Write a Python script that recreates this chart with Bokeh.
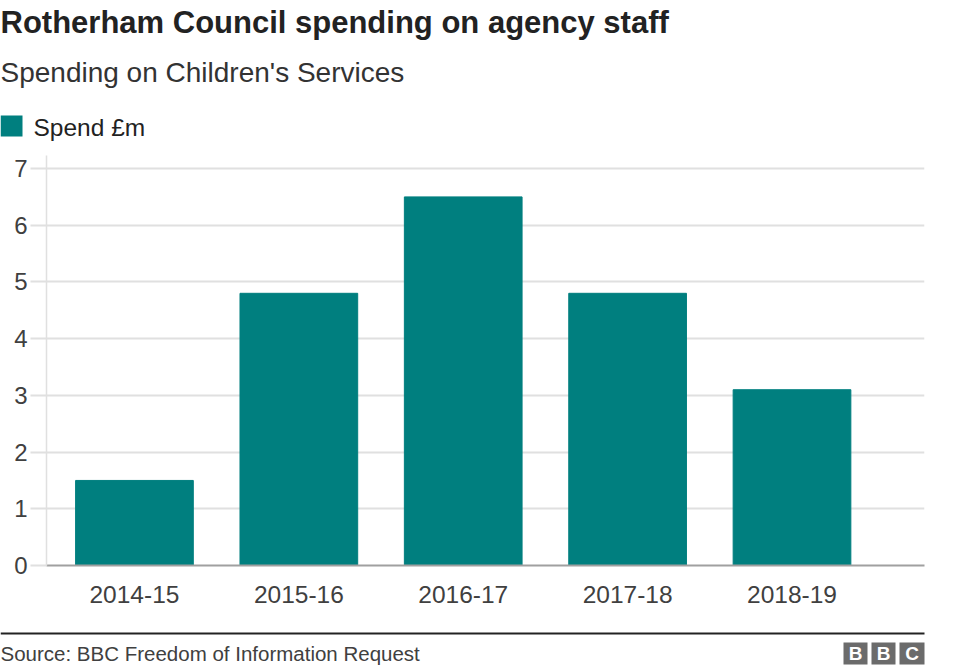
from bokeh.plotting import figure
from bokeh.models import FixedTicker, Range1d, ColumnDataSource
from bokeh.layouts import column
from bokeh.core.properties import value
from bokeh.embed import file_html
from bokeh.resources import INLINE

# ---- data ----
years = ["2014-15", "2015-16", "2016-17", "2017-18", "2018-19"]
spend = [1.5, 4.8, 6.5, 4.8, 3.1]
y_ticks = [0, 1, 2, 3, 4, 5, 6, 7]
title_text = "Rotherham Council spending on agency staff"
subtitle_text = "Spending on Children's Services"
legend_text = "Spend £m"
source_text = "Source: BBC Freedom of Information Request"
logo_letters = ["B", "B", "C"]

TEAL = "#007f7f"
FONT = "Liberation Sans"
W = 960


def blank(height, y0, y1):
    """Figure whose frame covers the whole canvas, y grows downward (pixel-like)."""
    f = figure(width=W, height=height, output_backend="svg", toolbar_location=None,
               x_range=Range1d(0, W), y_range=Range1d(y1, y0),
               x_axis_location=None, y_axis_location=None,
               min_border=0, min_border_left=0, min_border_right=0,
               min_border_top=0, min_border_bottom=0)
    f.frame_align = False
    f.outline_line_color = None
    f.grid.grid_line_color = None
    f.background_fill_color = "white"
    f.border_fill_color = "white"
    return f


def txt(f, x, y, text, size_px, bold=False, color="#222222", align="left"):
    # y is the wanted alphabetic baseline; place via middle baseline
    f.text(x=[x], y=[y - 0.37 * size_px], text=[text], text_font=value(FONT),
           text_font_size=f"{size_px}px",
           text_font_style="bold" if bold else "normal", text_color=color,
           text_align=align, text_baseline="middle")


# ---- header (ref y 0..150) ----
head = blank(150, 0, 150)
txt(head, 0, 33, title_text, 31, bold=True, color="#222222")
txt(head, 0, 82, subtitle_text, 28, color="#333333")
head.quad(left=[0], right=[22], top=[115], bottom=[136], fill_color=TEAL, line_color=None)
txt(head, 33, 136, legend_text, 24.5, color="#222222")

# ---- main chart (ref y 150..620) ----
p = figure(width=W, height=470, output_backend="svg", toolbar_location=None,
           x_range=Range1d(-0.535, 4.806), y_range=Range1d(0, 7.23),
           min_border_left=46, min_border_right=36,
           min_border_top=5, min_border_bottom=55)
p.frame_align = False
p.outline_line_color = None
p.background_fill_color = "white"
p.border_fill_color = "white"

xpos = list(range(len(years)))
src = ColumnDataSource(dict(x=xpos, top=spend))
p.vbar(x="x", top="top", bottom=0, width=0.716, source=src,
       fill_color=TEAL, line_color=TEAL, line_width=1)

p.xgrid.grid_line_color = None
p.ygrid.grid_line_color = "#e0e0e0"
p.ygrid.grid_line_width = 2
p.ygrid.ticker = FixedTicker(ticks=y_ticks)

ya = p.yaxis[0]
ya.ticker = FixedTicker(ticks=y_ticks)
ya.axis_line_color = "#e0e0e0"
ya.axis_line_width = 1.5
ya.major_tick_line_color = "#e0e0e0"
ya.major_tick_line_width = 2
ya.major_tick_out = 16
ya.major_tick_in = 0
ya.minor_tick_line_color = None
ya.major_label_standoff = 3
ya.major_label_text_font = FONT
ya.major_label_text_font_size = "24px"
ya.major_label_text_color = "#404040"

xa = p.xaxis[0]
xa.ticker = FixedTicker(ticks=xpos)
xa.major_label_overrides = {i: y for i, y in zip(xpos, years)}
xa.axis_line_color = "#a0a0a0"
xa.axis_line_width = 2
xa.major_tick_line_color = None
xa.minor_tick_line_color = None
xa.major_tick_out = 0
xa.major_tick_in = 0
xa.major_label_standoff = 20
xa.major_label_text_font = FONT
xa.major_label_text_font_size = "24.5px"
xa.major_label_text_color = "#404040"

# ---- footer (ref y 620..670) ----
foot = blank(50, 620, 670)
foot.segment(x0=[0], x1=[924], y0=[633], y1=[633], line_color="#222222", line_width=2)
txt(foot, 0, 661, source_text, 20.5, color="#404040")
box_l = [843, 871, 899]
box_r = [867, 895, 924]
foot.quad(left=box_l, right=box_r, top=[642] * 3, bottom=[664] * 3,
          fill_color="#6b6b6b", line_color=None)
foot.text(x=[(l + r) / 2 for l, r in zip(box_l, box_r)], y=[653] * 3, text=logo_letters,
          text_font=value(FONT), text_font_size="19px", text_font_style="bold",
          text_color="white", text_align="center", text_baseline="middle")

layout = column(head, p, foot, spacing=0)
open("out.html", "w").write(file_html(layout, INLINE))
